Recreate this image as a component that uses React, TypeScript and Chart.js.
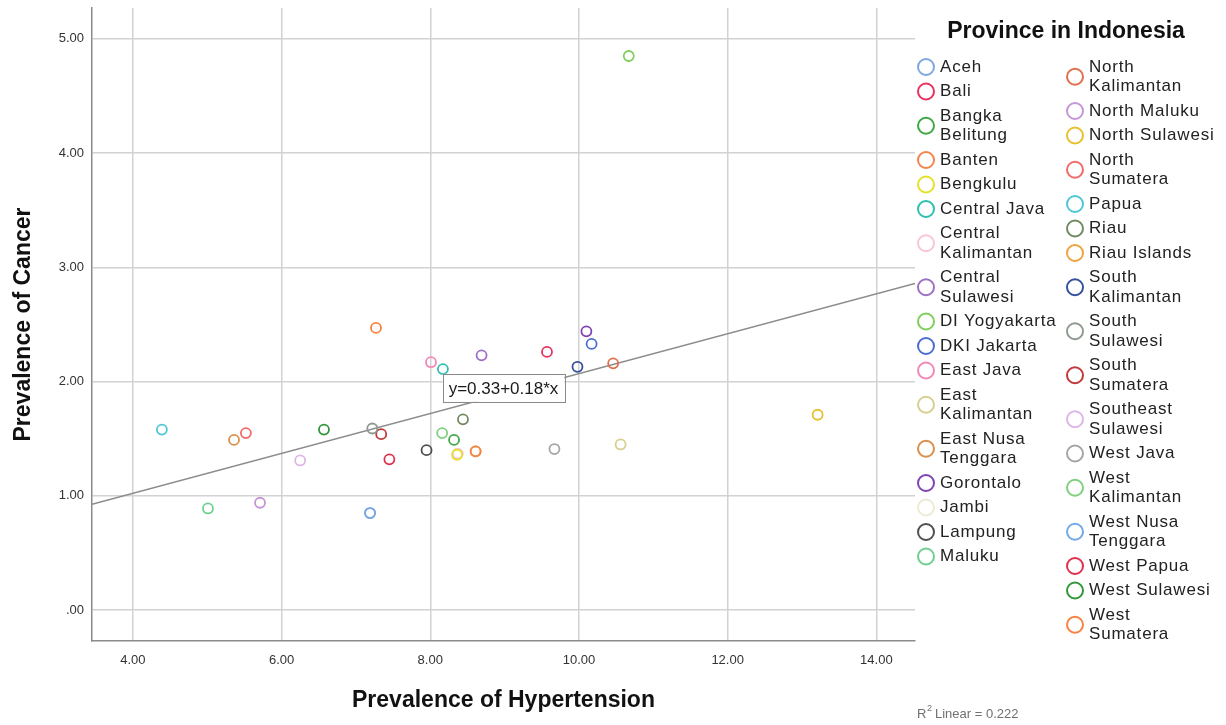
import React, { useEffect, useRef } from "react";
import { Chart, registerables } from "chart.js";

Chart.register(...registerables);

// ---------- data ----------
const provinces = [
  "Aceh", "Bali", "Bangka Belitung", "Banten", "Bengkulu", "Central Java",
  "Central Kalimantan", "Central Sulawesi", "DI Yogyakarta", "DKI Jakarta",
  "East Java", "East Kalimantan", "East Nusa Tenggara", "Gorontalo", "Jambi",
  "Lampung", "Maluku", "North Kalimantan", "North Maluku", "North Sulawesi",
  "North Sumatera", "Papua", "Riau", "Riau Islands", "South Kalimantan",
  "South Sulawesi", "South Sumatera", "Southeast Sulawesi", "West Java",
  "West Kalimantan", "West Nusa Tenggara", "West Papua", "West Sulawesi",
  "West Sumatera",
];

// Prevalence of Hypertension (x)
const hypertension = [
  7.19, 9.57, 8.32, 8.61, 8.36, 8.17,
  8.37, 8.69, 10.67, 10.17,
  8.01, 10.56, 5.36, 10.1, 8.37,
  7.95, 5.01, 10.46, 5.71, 13.21,
  5.52, 4.39, 8.44, 8.61, 9.98,
  7.22, 7.34, 6.25, 9.67,
  8.16, 7.19, 7.45, 6.57,
  7.27,
];

// Prevalence of Cancer (y)
const cancer = [
  0.85, 2.26, 1.49, 1.39, 1.36, 2.11,
  1.37, 2.23, 4.85, 2.33,
  2.17, 1.45, 1.49, 2.44, 1.37,
  1.4, 0.89, 2.16, 0.94, 1.71,
  1.55, 1.58, 1.67, 1.39, 2.13,
  1.59, 1.54, 1.31, 1.41,
  1.55, 0.85, 1.32, 1.58,
  2.47,
];

const colors = [
  "#7ea6e0", "#e6335f", "#3fa843", "#f5844c", "#e6e029", "#2ebfb0",
  "#f8c6d6", "#9e6fc6", "#7fcf5a", "#4c6fd0",
  "#f388b8", "#d6cf8e", "#d8904a", "#7e44b2", "#eeead5",
  "#505050", "#6fcf91", "#e0704c", "#c596d8", "#e7c02f",
  "#f26a6a", "#4fc7d5", "#728a62", "#f0a23e", "#34509e",
  "#8f9a8f", "#c0393b", "#ddb7e6", "#a6a6a6",
  "#7fd07f", "#70aaea", "#e0304f", "#33963a",
  "#f8823f",
];

// legend labels that SPSS wraps onto two lines
const twoLineLabels = [
  "Bangka Belitung", "Central Kalimantan", "Central Sulawesi", "East Kalimantan",
  "East Nusa Tenggara", "North Kalimantan", "North Sumatera", "South Kalimantan",
  "South Sulawesi", "South Sumatera", "Southeast Sulawesi", "West Kalimantan",
  "West Nusa Tenggara", "West Sumatera",
];

const xTicks = [4, 6, 8, 10, 12, 14];
const yTicks = [0, 1, 2, 3, 4, 5];
const xRange = [3.45, 14.52];
const yRange = [-0.27, 5.27];

const fitIntercept = 0.325;
const fitSlope = 0.1745;
const fitLabel = "y=0.33+0.18*x";
const r2Value = "0.222";

const legendTitle = "Province in Indonesia";
const xTitle = "Prevalence of Hypertension";
const yTitle = "Prevalence of Cancer";

const FONT = '"Liberation Sans", Arial, sans-serif';

const fmt = (v: number) => v.toFixed(2).replace(/^0(?=\.)/, "");

const overlayPlugin = {
  id: "spssOverlay",
  afterDatasetsDraw(chart: any) {
    const { ctx, scales } = chart;
    const xs = scales.x;
    const ys = scales.y;
    // regression label box
    const xm = (xRange[0] + xRange[1]) / 2;
    const px = xs.getPixelForValue(xm);
    const py = ys.getPixelForValue(fitIntercept + fitSlope * xm) - 6;
    ctx.save();
    ctx.font = `17px ${FONT}`;
    const tw = ctx.measureText(fitLabel).width;
    const bw = tw + 12;
    const bh = 28;
    ctx.fillStyle = "#ffffff";
    ctx.fillRect(px - bw / 2, py - bh / 2, bw, bh);
    ctx.strokeStyle = "#8a8a8a";
    ctx.lineWidth = 1;
    ctx.strokeRect(Math.round(px - bw / 2) + 0.5, Math.round(py - bh / 2) + 0.5, Math.round(bw), bh);
    ctx.fillStyle = "#1a1a1a";
    ctx.textAlign = "center";
    ctx.textBaseline = "middle";
    ctx.fillText(fitLabel, px, py + 1);
    ctx.restore();
  },
  afterDraw(chart: any) {
    const { ctx } = chart;
    ctx.save();
    // legend title
    ctx.fillStyle = "#111";
    ctx.font = `bold 23px ${FONT}`;
    ctx.textAlign = "center";
    ctx.textBaseline = "middle";
    ctx.fillText(legendTitle, 1066, 32);

    // legend items
    ctx.font = `17px ${FONT}`;
    try { (ctx as any).letterSpacing = "0.8px"; } catch (e) {}
    ctx.textAlign = "left";
    const half = Math.ceil(provinces.length / 2);
    const colX = [926, 1075];
    const pitch = 24.5;
    const lineH = 19.5;
    for (let c = 0; c < 2; c++) {
      let y = 67;
      const items = provinces.slice(c * half, (c + 1) * half);
      items.forEach((name, k) => {
        const i = c * half + k;
        const wrap = twoLineLabels.includes(name);
        const lines = wrap
          ? [name.slice(0, name.lastIndexOf(" ")), name.slice(name.lastIndexOf(" ") + 1)]
          : [name];
        const cy = y + ((lines.length - 1) * lineH) / 2;
        ctx.beginPath();
        ctx.arc(colX[c], cy, 8, 0, Math.PI * 2);
        ctx.strokeStyle = colors[i];
        ctx.lineWidth = 2;
        ctx.stroke();
        ctx.fillStyle = "#222";
        lines.forEach((t, j) => ctx.fillText(t, colX[c] + 14, y + j * lineH));
        y += pitch + (lines.length - 1) * lineH;
      });
    }
    try { (ctx as any).letterSpacing = "0px"; } catch (e) {}

    // R² text
    ctx.fillStyle = "#707070";
    ctx.textBaseline = "alphabetic";
    ctx.font = `13px ${FONT}`;
    ctx.fillText("R", 917, 718);
    const rw = ctx.measureText("R").width;
    ctx.font = `9px ${FONT}`;
    ctx.fillText("2", 917 + rw + 0.5, 711);
    ctx.font = `13px ${FONT}`;
    ctx.fillText(` Linear = ${r2Value}`, 917 + rw + 5, 718);
    ctx.restore();
  },
};

export default function App() {
  const ref = useRef<HTMLCanvasElement | null>(null);

  useEffect(() => {
    if (!ref.current) return;
    const pointSets = provinces.map((name, i) => ({
      type: "scatter" as const,
      label: name,
      data: [{ x: hypertension[i], y: cancer[i] }],
      borderColor: colors[i],
      backgroundColor: "rgba(0,0,0,0)",
      pointRadius: 5,
      pointBorderWidth: 1.8,
      pointHoverRadius: 5,
      showLine: false,
    }));
    const fitSet = {
      type: "scatter" as const,
      label: "Fit",
      data: xRange.map((x) => ({ x, y: fitIntercept + fitSlope * x })),
      borderColor: "#8c8c8c",
      backgroundColor: "#8c8c8c",
      borderWidth: 1.5,
      pointRadius: 0,
      showLine: true,
    };
    const chart = new Chart(ref.current, {
      type: "scatter",
      data: { datasets: [...pointSets, fitSet] as any },
      options: {
        animation: false,
        responsive: false,
        devicePixelRatio: 1,
        layout: { padding: { left: 0, top: 8, right: 311, bottom: 0 } },
        plugins: { legend: { display: false }, tooltip: { enabled: false } },
        scales: {
          x: {
            type: "linear",
            min: xRange[0],
            max: xRange[1],
            afterBuildTicks: (s: any) => { s.ticks = xTicks.map((v) => ({ value: v })); },
            afterFit: (s: any) => { s.height = 84; s.paddingLeft = 0; s.paddingRight = 0; },
            ticks: {
              callback: (v: any) => fmt(Number(v)),
              font: { size: 13, family: FONT },
              color: "#333",
              padding: 12,
              maxRotation: 0,
              autoSkip: false,
            },
            grid: { color: "#d2d2d2", lineWidth: 1.5, drawTicks: false },
            border: { color: "#8a8a8a", width: 1.5 },
            title: {
              display: true,
              text: xTitle,
              font: { size: 23, weight: "bold", family: FONT },
              color: "#111",
              padding: { top: 0, bottom: 11 },
            },
          },
          y: {
            type: "linear",
            min: yRange[0],
            max: yRange[1],
            afterBuildTicks: (s: any) => { s.ticks = yTicks.map((v) => ({ value: v })); },
            afterFit: (s: any) => { s.width = 92; s.paddingTop = 0; s.paddingBottom = 0; },
            ticks: {
              callback: (v: any) => fmt(Number(v)),
              font: { size: 13, family: FONT },
              color: "#333",
              padding: 8,
              autoSkip: false,
            },
            grid: { color: "#d2d2d2", lineWidth: 1.5, drawTicks: false },
            border: { color: "#8a8a8a", width: 1.5 },
            title: {
              display: true,
              text: yTitle,
              font: { size: 23, weight: "bold", family: FONT },
              color: "#111",
              padding: { top: 10, bottom: 0 },
            },
          },
        },
      },
      plugins: [overlayPlugin],
    });
    return () => chart.destroy();
  }, []);

  return (
    <div style={{ position: "absolute", left: 0, top: 0, width: 1226, height: 725, background: "#fff" }}>
      <canvas ref={ref} width={1226} height={725} style={{ width: 1226, height: 725, display: "block" }} />
    </div>
  );
}
